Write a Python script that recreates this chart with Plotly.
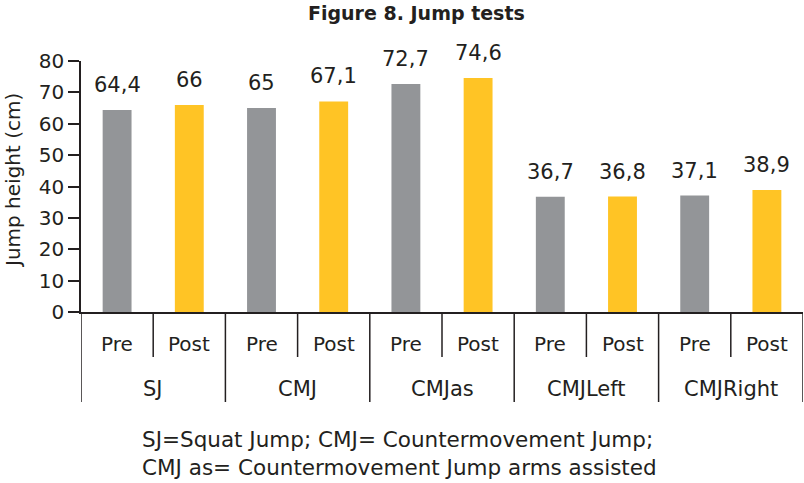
import plotly.graph_objects as go

groups = ["SJ", "CMJ", "CMJas", "CMJLeft", "CMJRight"]
conditions = ["Pre", "Post"]
pre_values = [64.4, 65.0, 72.7, 36.7, 37.1]
post_values = [66.0, 67.1, 74.6, 36.8, 38.9]
value_labels_pre = ["64,4", "65", "72,7", "36,7", "37,1"]
value_labels_post = ["66", "67,1", "74,6", "36,8", "38,9"]
y_ticks = [0, 10, 20, 30, 40, 50, 60, 70, 80]

GRAY = "#939598"
YELLOW = "#FFC425"
TXT = "#231F20"
FONT = "DejaVu Sans"

W, H = 804, 483
ml, mr, mt, mb = 81, 1, 61, 171
plot_h = H - mt - mb

def py(pix):
    # pixel y -> paper y
    return (H - mb - pix) / plot_h

xs, ys, cols, texts, ticks = [], [], [], [], []
for gi, g in enumerate(groups):
    for ci, c in enumerate(conditions):
        idx = gi * 2 + ci
        xs.append(idx)
        if ci == 0:
            ys.append(pre_values[gi]); cols.append(GRAY); texts.append(value_labels_pre[gi])
        else:
            ys.append(post_values[gi]); cols.append(YELLOW); texts.append(value_labels_post[gi])
        ticks.append(c)

fig = go.Figure()
fig.add_trace(go.Bar(x=xs, y=ys, marker=dict(color=cols, line=dict(width=0)),
                     width=0.4, hoverinfo="skip"))

ann = []
for x, y, t in zip(xs, ys, texts):
    ann.append(dict(x=x, y=y, text=t, showarrow=False, xref="x", yref="y",
                    yanchor="bottom", yshift=11, font=dict(size=21, color=TXT, family=FONT)))
for x, t in zip(xs, ticks):
    ann.append(dict(x=x, y=py(344), text=t, showarrow=False, xref="x", yref="paper",
                    yanchor="middle", font=dict(size=20, color=TXT, family=FONT)))
for gi, g in enumerate(groups):
    ann.append(dict(x=gi * 2 + 0.5, y=py(389), text=g, showarrow=False, xref="x", yref="paper",
                    yanchor="middle", font=dict(size=21, color=TXT, family=FONT)))

shapes = []
n = len(xs)
for k in range(n + 1):
    b = k - 0.5
    if k % 2 == 0:
        y1 = py(402)
    else:
        y1 = py(357)
    shapes.append(dict(type="line", xref="x", yref="paper", x0=b, x1=b, y0=0, y1=y1,
                       line=dict(color=TXT, width=1.5)))

ann.append(dict(xref="paper", yref="paper", x=(416 - ml) / (W - ml - mr), y=py(13),
                text="<b>Figure 8. Jump tests</b>", showarrow=False, yanchor="middle",
                font=dict(size=19, color=TXT, family=FONT)))
ann.append(dict(xref="paper", yref="paper", x=(140 - ml) / (W - ml - mr), y=py(453),
                xanchor="left", yanchor="middle", align="left", showarrow=False,
                text="SJ=Squat Jump; CMJ= Countermovement Jump;<br>CMJ as= Countermovement Jump arms assisted",
                font=dict(size=21.5, color=TXT, family=FONT)))
ann.append(dict(xref="paper", yref="paper", x=-(ml - 13) / (W - ml - mr), y=py(181),
                text="Jump height (cm)", textangle=-90, showarrow=False,
                xanchor="center", yanchor="middle",
                font=dict(size=20, color=TXT, family=FONT)))

fig.update_layout(
    width=W, height=H, margin=dict(l=ml, r=mr, t=mt, b=mb),
    paper_bgcolor="white", plot_bgcolor="white", showlegend=False,
    annotations=ann, shapes=shapes,
    xaxis=dict(range=[-0.5, n - 0.5], showticklabels=False, ticks="", showgrid=False,
               zeroline=False, showline=True, linecolor=TXT, linewidth=1.5),
    yaxis=dict(range=[0, 80], tickvals=y_ticks, ticks="outside", ticklen=11, tickwidth=1.5,
               tickcolor=TXT, showgrid=False, zeroline=False, showline=True, linecolor=TXT,
               linewidth=1.5, tickfont=dict(size=20, color=TXT, family=FONT)),
)

fig.write_html("out.html")
